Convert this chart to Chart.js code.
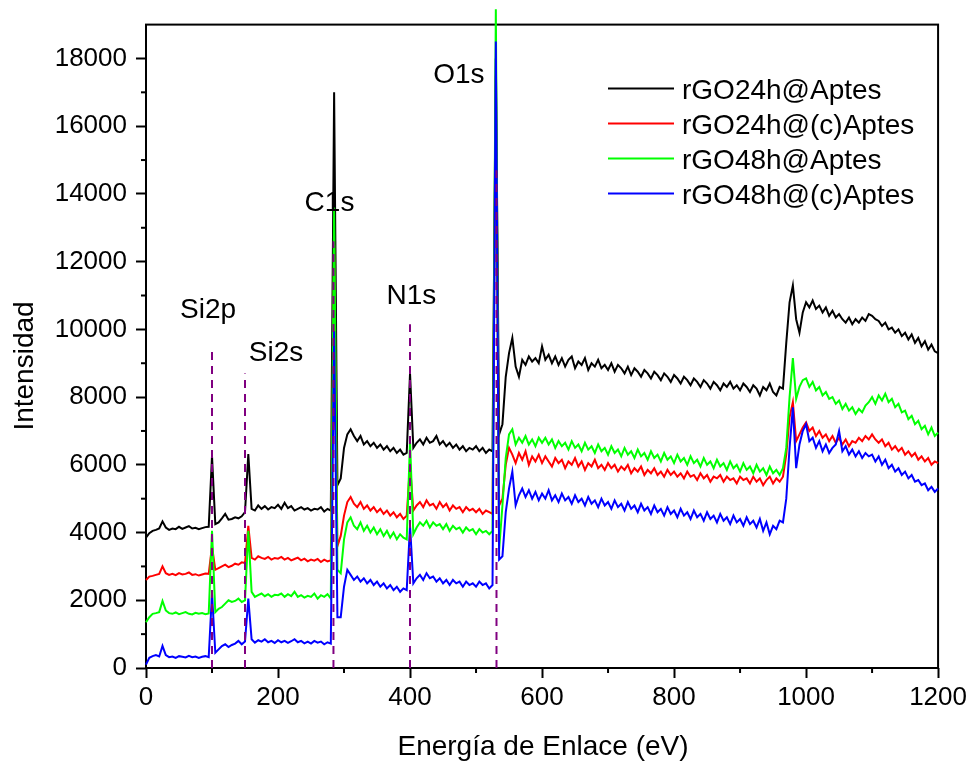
<!DOCTYPE html>
<html><head><meta charset="utf-8">
<script src="https://cdn.jsdelivr.net/npm/chart.js@4.4.1/dist/chart.umd.min.js"></script>
<style>html,body{margin:0;padding:0;background:#fff;}#wrap{width:971px;height:761px;position:relative;}</style>
</head><body><div id="wrap"><canvas id="c"></canvas></div>
<script>
// ---- DATA ----
const energies = [
0,5,10,15,20,25,30,35,40,45,50,55,60,65,70,75,80,85,90,95,
100,105,110,115,120,125,130,135,140,145,150,155,160,165,170,175,180,185,190,195,
200,205,210,215,220,225,230,235,240,245,250,255,260,265,270,275,280,285,290,295,
300,305,310,315,320,325,330,335,340,345,350,355,360,365,370,375,380,385,390,395,
400,405,410,415,420,425,430,435,440,445,450,455,460,465,470,475,480,485,490,495,
500,505,510,515,520,525,530,535,540,545,550,555,560,565,570,575,580,585,590,595,
600,605,610,615,620,625,630,635,640,645,650,655,660,665,670,675,680,685,690,695,
700,705,710,715,720,725,730,735,740,745,750,755,760,765,770,775,780,785,790,795,
800,805,810,815,820,825,830,835,840,845,850,855,860,865,870,875,880,885,890,895,
900,905,910,915,920,925,930,935,940,945,950,955,960,965,970,975,980,985,990,995,
1000,1005,1010,1015,1020,1025,1030,1035,1040,1045,1050,1055,1060,1065,1070,1075,1080,1085,1090,1095,
1100,1105,1110,1115,1120,1125,1130,1135,1140,1145,1150,1155,1160,1165,1170,1175,1180,1185,1190,1195,
1200];

const seriesNames = ['rGO24h@Aptes','rGO24h@(c)Aptes','rGO48h@Aptes','rGO48h@(c)Aptes'];

const rGO24hAptes = [
3850,3980,4050,4080,4120,4330,4150,4080,4120,4100,4170,4110,4150,4190,4120,4140,4100,4130,4160,4170,
6250,4250,4300,4420,4550,4380,4400,4450,4420,4480,4600,6320,4700,4650,4800,4700,4780,4680,4750,4720,
4820,4700,4880,4720,4780,4650,4700,4750,4680,4720,4650,4700,4680,4750,4620,4700,4650,17000,5400,5600,
6500,6900,7050,6850,6700,6850,6600,6700,6550,6650,6500,6600,6450,6550,6400,6500,6350,6450,6300,6350,
8700,6500,6650,6750,6600,6800,6650,6700,6850,6600,6700,6550,6650,6500,6600,6450,6550,6400,6500,6450,
6550,6400,6500,6350,6450,6400,18000,6900,7200,8600,9300,9750,8900,8600,9100,8950,9200,9050,9150,9000,
9500,9100,9250,9000,9200,8950,9150,8900,9100,9200,8850,9050,8950,9150,8800,9000,8900,9100,8850,8950,
8800,9000,8750,8950,8850,8700,8900,8650,8850,8750,8600,8800,8700,8550,8750,8650,8500,8700,8600,8450,
8650,8550,8400,8600,8500,8350,8550,8450,8300,8500,8400,8250,8450,8350,8200,8400,8300,8450,8250,8350,
8200,8400,8300,8150,8350,8250,8050,8300,8200,8400,8150,8050,8300,8250,9600,10800,11300,10300,9900,10500,
10800,10650,10850,10600,10700,10500,10650,10400,10550,10350,10450,10300,10200,10350,10150,10300,10200,10350,10250,10450,
10400,10300,10250,10100,10200,10000,10050,9900,10000,9800,9900,9700,9850,9600,9750,9500,9650,9400,9550,9350,
9300];

const rGO24hcAptes = [
2600,2700,2720,2750,2780,3000,2800,2750,2780,2740,2800,2760,2780,2820,2750,2770,2730,2760,2790,2780,
3600,2900,2950,3000,3050,2980,3020,3080,3050,3120,3100,4200,3250,3200,3300,3250,3220,3280,3200,3250,
3230,3280,3200,3250,3180,3220,3260,3180,3230,3150,3200,3170,3220,3130,3200,3150,3180,12500,3600,3900,
4500,4900,5050,4850,4750,4900,4700,4800,4650,4750,4600,4700,4550,4650,4500,4600,4450,4550,4400,4500,
6000,4650,4800,4900,4750,4950,4800,4850,4700,4900,4750,4850,4650,4800,4700,4750,4600,4750,4650,4700,
4600,4700,4550,4650,4600,4550,17500,4800,5000,6000,6500,6300,6050,6350,6150,6400,6000,6250,6100,6300,
6050,6250,6100,5950,6200,6050,6150,5900,6100,6000,6200,5950,6100,5850,6050,5950,6150,5900,6000,5850,
6050,5900,6000,5800,5950,5850,6000,5750,5900,5800,5950,5700,5850,5750,5900,5700,5800,5650,5850,5700,
5800,5650,5750,5600,5800,5650,5700,5550,5750,5600,5700,5500,5650,5600,5700,5500,5650,5550,5600,5450,
5650,5550,5600,5450,5650,5500,5600,5400,5550,5650,5450,5600,5500,5650,6300,7400,7850,6700,6900,7100,
7250,7000,7100,6850,7000,6800,6900,6700,6850,6650,6800,6600,6750,6550,6700,6650,6800,6700,6850,6750,
6900,6750,6650,6750,6550,6650,6450,6550,6400,6500,6300,6400,6250,6350,6150,6250,6100,6200,6000,6100,
6050];

const rGO48hAptes = [
1350,1500,1600,1620,1650,1980,1700,1620,1600,1640,1590,1620,1650,1600,1580,1630,1600,1620,1590,1610,
4050,1650,1750,1800,1900,2000,1950,1980,2050,1950,2000,4050,2250,2100,2150,2200,2120,2180,2100,2160,
2150,2200,2100,2180,2120,2250,2100,2150,2080,2130,2100,2200,2050,2150,2100,2180,2050,13600,2900,2800,
3800,4300,4450,4200,4100,4300,4050,4200,4000,4150,3950,4100,3900,4050,3850,4000,3800,3950,3850,3800,
6700,3950,4150,4300,4200,4350,4150,4300,4200,4250,4100,4250,4050,4200,4100,4150,4000,4150,4050,4100,
3950,4100,4000,4050,3950,4050,19450,3500,4800,6200,6900,7050,6600,6800,6650,6850,6600,6750,6550,6800,
6650,6800,6600,6750,6500,6700,6550,6650,6450,6700,6500,6600,6400,6650,6450,6550,6350,6600,6400,6500,
6300,6550,6350,6450,6250,6500,6300,6400,6200,6450,6250,6350,6150,6400,6200,6300,6100,6350,6150,6250,
6050,6300,6100,6200,6000,6250,6050,6150,5950,6200,6000,6100,5900,6150,5950,6050,5850,6100,5900,6000,
5800,6050,5850,5950,5750,6000,5800,5900,5700,5950,5750,5850,5700,5900,6500,8000,9150,7950,8300,8500,
8550,8300,8450,8200,8300,8050,8150,7950,8000,7800,7900,7650,7800,7600,7700,7500,7650,7550,7750,7850,
8000,7800,8050,7900,8100,7850,7950,7700,7800,7550,7600,7350,7450,7200,7300,7050,7150,6900,7100,6850,
6950];

const rGO48hcAptes = [
100,300,350,380,340,650,380,320,340,300,350,330,310,360,320,340,300,330,350,320,
2200,450,550,650,700,620,680,720,800,700,780,2050,850,750,820,780,850,760,800,740,
820,760,800,740,790,850,760,800,730,780,720,800,750,780,700,760,720,9950,1500,1500,
2400,2900,2750,2600,2700,2550,2650,2500,2600,2450,2550,2400,2500,2350,2450,2300,2400,2250,2350,2300,
4200,2500,2650,2750,2600,2800,2650,2700,2550,2650,2500,2600,2450,2600,2500,2550,2400,2550,2450,2500,
2400,2550,2450,2500,2350,2450,18500,3200,3300,4600,5300,5800,4800,5100,5300,5050,5250,5000,5200,4950,
5150,5000,5250,4950,5100,4900,5150,4950,5050,4850,5100,4900,5000,4800,5050,4850,4950,4750,5000,4800,
4900,4700,4950,4750,4850,4650,4900,4700,4800,4600,4850,4650,4750,4550,4800,4600,4700,4500,4750,4550,
4650,4450,4700,4500,4600,4400,4650,4450,4550,4350,4600,4400,4500,4300,4550,4350,4450,4250,4500,4300,
4400,4200,4450,4250,4350,4150,4400,4050,4300,3950,4200,4100,4350,4300,5000,6500,7700,5900,6600,7000,
7200,6700,6800,6500,6700,6400,6600,6350,6500,6600,7000,6400,6550,6300,6450,6250,6400,6200,6350,6250,
6300,6100,6250,6000,6150,5900,6000,5800,5900,5700,5800,5600,5700,5500,5550,5400,5450,5250,5350,5200,
5300];

const peakNames = ['Si2p','Si2s','C1s','N1s','O1s'];
const peakEnergies = [100,150,284,400,531];
const peakLineTops = [9400,8700,12600,10150,14700];

const xTickValues = [0,200,400,600,800,1000,1200];
const yTickValues = [0,2000,4000,6000,8000,10000,12000,14000,16000,18000];
const xMinorValues = [100,300,500,700,900,1100];
const yMinorValues = [1000,3000,5000,7000,9000,11000,13000,15000,17000];

// ---- STYLE ----
const seriesColors = ['#000000','#ff0000','#00ff00','#0000ff'];
const FONT = "'Liberation Sans', Arial, sans-serif";
const peakLabelPos = [ {e:94,i:10342},{e:197,i:9075},{e:278,i:13494},{e:402,i:10754},{e:474,i:17266} ];

const seriesValues = [rGO24hAptes, rGO24hcAptes, rGO48hAptes, rGO48hcAptes];
const datasets = seriesValues.map((vals,k)=>({
  label: seriesNames[k],
  data: vals.map((v,i)=>({x:energies[i], y:v})),
  borderColor: seriesColors[k], backgroundColor: seriesColors[k],
  borderWidth: 2, pointRadius: 0, tension: 0, fill: false, clip: false,
  order: 4-k
}));
peakEnergies.forEach((e,k)=>{
  datasets.push({
    label: 'peak-'+peakNames[k],
    data: [{x:e,y:0},{x:e,y:peakLineTops[k]}],
    borderColor:'#800080', borderWidth:2, borderDash:[8,6], pointRadius:0, fill:false, order:0
  });
});

const decorPlugin = {
  id:'decor',
  beforeDatasetsDraw(chart){
    const {ctx, chartArea:a} = chart;
    ctx.save(); ctx.strokeStyle='#000'; ctx.lineWidth=2;
    ctx.strokeRect(a.left, a.top, a.right-a.left, a.bottom-a.top);
    const xs = chart.scales.x, ys = chart.scales.y;
    xMinorValues.forEach(v=>{const px=xs.getPixelForValue(v);ctx.beginPath();ctx.moveTo(px,a.bottom);ctx.lineTo(px,a.bottom+5);ctx.stroke();});
    yMinorValues.forEach(v=>{const py=ys.getPixelForValue(v);ctx.beginPath();ctx.moveTo(a.left,py);ctx.lineTo(a.left-5,py);ctx.stroke();});
    ctx.restore();
  },
  afterDraw(chart){
    const {ctx} = chart;
    const xs = chart.scales.x, ys = chart.scales.y;
    ctx.save();
    ctx.fillStyle='#000';
    ctx.font = '28px '+FONT;
    ctx.textAlign='center'; ctx.textBaseline='alphabetic';
    ctx.fillText('Energía de Enlace (eV)', 543, 755);
    ctx.save(); ctx.translate(33,366); ctx.rotate(-Math.PI/2); ctx.fillText('Intensidad',0,0); ctx.restore();
    peakNames.forEach((n,k)=>{
      const p = peakLabelPos[k];
      ctx.fillText(n, xs.getPixelForValue(p.e), ys.getPixelForValue(p.i));
    });
    const rows=[88.5,123.5,158.5,193.5];
    ctx.textAlign='left';
    seriesNames.forEach((n,k)=>{
      ctx.strokeStyle=seriesColors[k]; ctx.lineWidth=2;
      ctx.beginPath(); ctx.moveTo(608,rows[k]); ctx.lineTo(674,rows[k]); ctx.stroke();
      ctx.fillStyle='#000';
      ctx.fillText(n, 682, rows[k]+10);
    });
    ctx.restore();
  }
};

new Chart(document.getElementById('c'), {
  type:'line',
  data:{datasets},
  options:{
    responsive:true, maintainAspectRatio:false, animation:false,
    layout:{padding:{top:22,right:32,left:0,bottom:0}},
    plugins:{legend:{display:false}, tooltip:{enabled:false}},
    scales:{
      x:{type:'linear', min:0, max:1200,
        afterFit(s){s.height=93;},
        afterBuildTicks(s){s.ticks = xTickValues.map(v=>({value:v}));},
        ticks:{font:{size:26,family:FONT}, color:'#000', padding:4, maxRotation:0, autoSkip:false, callback:v=>String(v)},
        grid:{drawOnChartArea:false, drawTicks:true, tickLength:10, tickColor:'#000', tickWidth:2},
        border:{display:false}
      },
      y:{type:'linear', min:0, max:19000,
        afterFit(s){s.width=146;},
        afterBuildTicks(s){s.ticks = yTickValues.map(v=>({value:v}));},
        ticks:{font:{size:26,family:FONT}, color:'#000', padding:9, autoSkip:false, callback:v=>String(v)},
        grid:{drawOnChartArea:false, drawTicks:true, tickLength:10, tickColor:'#000', tickWidth:2},
        border:{display:false}
      }
    }
  },
  plugins:[decorPlugin]
});
</script></body></html>
